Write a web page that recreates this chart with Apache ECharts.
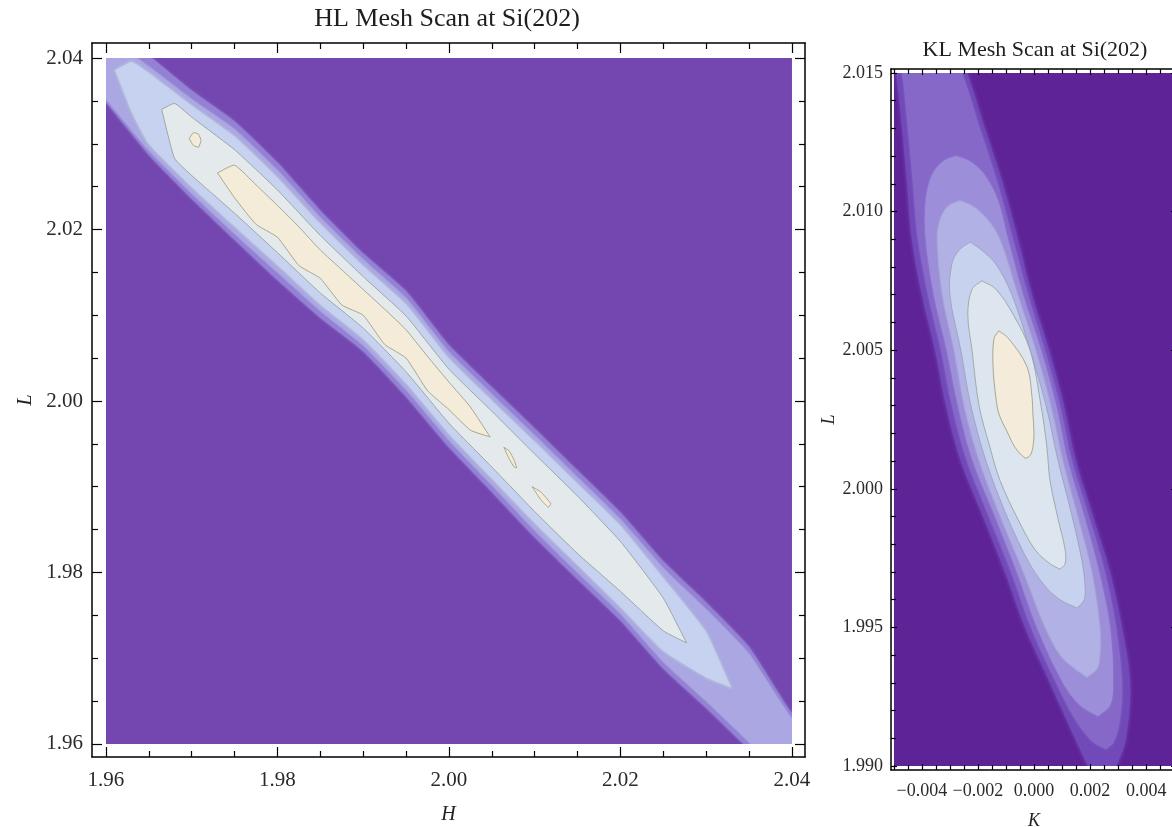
<!DOCTYPE html>
<html>
<head>
<meta charset="utf-8">
<script src="https://cdn.jsdelivr.net/npm/echarts@6/dist/echarts.min.js"></script>
<style>
  html, body { margin: 0; padding: 0; background: #ffffff; }
  #chart { width: 1172px; height: 827px; }
</style>
</head>
<body>
<div id="chart"></div>
<script>
// ---------------- data ----------------
const hlTitle = 'HL Mesh Scan at Si(202)';
const klTitle = 'KL Mesh Scan at Si(202)';

// tick values
const hlMajorTicks = [1.96, 1.98, 2.00, 2.02, 2.04];
const hlMinorTicks = [1.965, 1.97, 1.975, 1.985, 1.99, 1.995, 2.005, 2.01, 2.015, 2.025, 2.03, 2.035];
const klKMajorTicks = [-0.004, -0.002, 0.000, 0.002, 0.004];
const klKMinorTicks = [-0.005, -0.0045, -0.0035, -0.003, -0.0025, -0.0015, -0.001, -0.0005,
                       0.0005, 0.001, 0.0015, 0.0025, 0.003, 0.0035, 0.0045, 0.005];
const klLMajorTicks = [1.990, 1.995, 2.000, 2.005, 2.010, 2.015];
const klLMinorTicks = [1.991, 1.992, 1.993, 1.994, 1.996, 1.997, 1.998, 1.999, 2.001, 2.002,
                       2.003, 2.004, 2.006, 2.007, 2.008, 2.009, 2.011, 2.012, 2.013, 2.014];

// scanned domains
const hlDomainH = [1.96, 2.04];
const hlDomainL = [1.96, 2.04];
const klDomainK = [-0.005, 0.005];
const klDomainL = [1.990, 2.015];

// HL contour bands: rows [H, L upper edge, L lower edge], outermost first
const hlBand1 = [
  [1.9550, 2.0480, 2.0400], [1.9600, 2.0440, 2.0348], [1.9650, 2.0403, 2.0287],
  [1.9700, 2.0362, 2.0236], [1.9750, 2.0326, 2.0188], [1.9800, 2.0278, 2.0141],
  [1.9850, 2.0222, 2.0097], [1.9900, 2.0172, 2.0058], [1.9950, 2.0128, 2.0005],
  [2.0000, 2.0065, 1.9946], [2.0050, 2.0016, 1.9894], [2.0100, 1.9968, 1.9841],
  [2.0150, 1.9919, 1.9792], [2.0200, 1.9870, 1.9744], [2.0250, 1.9813, 1.9688],
  [2.0300, 1.9765, 1.9642], [2.0350, 1.9713, 1.9594], [2.0400, 1.9636, 1.9550],
  [2.0450, 1.9592, 1.9500]
];
const hlBand2 = [
  [1.9550, 2.0465, 2.0405], [1.9600, 2.0427, 2.0352], [1.9650, 2.0390, 2.0292],
  [1.9700, 2.0352, 2.0242], [1.9750, 2.0317, 2.0195], [1.9800, 2.0269, 2.0150],
  [1.9850, 2.0214, 2.0105], [1.9900, 2.0165, 2.0065], [1.9950, 2.0120, 2.0013],
  [2.0000, 2.0057, 1.9954], [2.0050, 2.0008, 1.9902], [2.0100, 1.9960, 1.9849],
  [2.0150, 1.9911, 1.9800], [2.0200, 1.9862, 1.9752], [2.0250, 1.9805, 1.9696],
  [2.0300, 1.9757, 1.9650], [2.0350, 1.9705, 1.9602], [2.0400, 1.9630, 1.9554],
  [2.0450, 1.9585, 1.9505]
];
const hlBand3 = [
  [1.9610, 2.0386, 2.0386], [1.9630, 2.0396, 2.0336], [1.9650, 2.0383, 2.0299],
  [1.9700, 2.0345, 2.0249], [1.9750, 2.0309, 2.0203], [1.9800, 2.0261, 2.0158],
  [1.9850, 2.0207, 2.0112], [1.9900, 2.0158, 2.0072], [1.9950, 2.0113, 2.0020],
  [2.0000, 2.0050, 1.9961], [2.0050, 2.0001, 1.9909], [2.0100, 1.9953, 1.9857],
  [2.0150, 1.9904, 1.9808], [2.0200, 1.9855, 1.9759], [2.0250, 1.9794, 1.9708],
  [2.0300, 1.9731, 1.9677], [2.0330, 1.9665, 1.9665]
];
const hlBand4 = [
  [1.9665, 2.0340, 2.0340], [1.9680, 2.0347, 2.0283], [1.9700, 2.0331, 2.0263],
  [1.9750, 2.0293, 2.0219], [1.9800, 2.0246, 2.0173], [1.9850, 2.0193, 2.0126],
  [1.9900, 2.0145, 2.0085], [1.9950, 2.0099, 2.0034], [2.0000, 2.0037, 1.9974],
  [2.0050, 1.9988, 1.9923], [2.0100, 1.9938, 1.9871], [2.0150, 1.9889, 1.9822],
  [2.0200, 1.9836, 1.9778], [2.0250, 1.9770, 1.9732], [2.0277, 1.9718, 1.9718]
];
const hlCore = [
  [1.9730, 2.0266, 2.0266], [1.9750, 2.0275, 2.0237], [1.9775, 2.0252, 2.0206],
  [1.9800, 2.0228, 2.0191], [1.9825, 2.0203, 2.0158], [1.9850, 2.0176, 2.0143],
  [1.9875, 2.0153, 2.0112], [1.9900, 2.0130, 2.0100], [1.9925, 2.0107, 2.0066],
  [1.9950, 2.0083, 2.0050], [1.9975, 2.0052, 2.0012], [2.0000, 2.0022, 1.9990],
  [2.0025, 1.9993, 1.9966], [2.0048, 1.9958, 1.9958]
];
const hlIsland0 = [[1.9697, 2.0306, 2.0306], [1.9702, 2.0313, 2.0298], [1.9708, 2.0311, 2.0296], [1.9711, 2.0304, 2.0304]];
const hlIsland1 = [[2.0064, 1.9946, 1.9946], [2.0070, 1.9942, 1.9933], [2.0076, 1.9931, 1.9923], [2.0079, 1.9922, 1.9922]];
const hlIsland2 = [[2.0097, 1.9900, 1.9900], [2.0107, 1.9894, 1.9885], [2.0116, 1.9884, 1.9876], [2.0119, 1.9880, 1.9880]];

// KL contour rings: rows [L, K left edge, K right edge], outermost first
const klRing1 = [
  [2.0158, -0.00514, -0.00282], [2.0150, -0.00493, -0.00239], [2.0130, -0.00471, -0.00175],
  [2.0110, -0.00453, -0.00111], [2.0090, -0.00436, -0.00057], [2.0070, -0.00400, -0.00007],
  [2.0050, -0.00353, 0.00054], [2.0030, -0.00314, 0.00107], [2.0010, -0.00261, 0.00150],
  [1.9990, -0.00182, 0.00211], [1.9970, -0.00104, 0.00271], [1.9950, -0.00032, 0.00314],
  [1.9930, 0.00057, 0.00343], [1.9910, 0.00146, 0.00328], [1.9900, 0.00193, 0.00293],
  [1.9891, 0.00243, 0.00243]
];
const klRing2 = [
  [2.0158, -0.00489, -0.00300], [2.0150, -0.00471, -0.00257], [2.0130, -0.00450, -0.00193],
  [2.0110, -0.00432, -0.00129], [2.0090, -0.00414, -0.00075], [2.0070, -0.00378, -0.00021],
  [2.0050, -0.00332, 0.00039], [2.0030, -0.00293, 0.00093], [2.0010, -0.00239, 0.00136],
  [1.9990, -0.00161, 0.00196], [1.9970, -0.00082, 0.00253], [1.9950, -0.00011, 0.00293],
  [1.9930, 0.00079, 0.00314], [1.9917, 0.00146, 0.00307], [1.9909, 0.00207, 0.00286],
  [1.9906, 0.00257, 0.00257]
];
const klRing3 = [
  [2.0120, -0.00278, -0.00278], [2.0118, -0.00325, -0.00228], [2.0113, -0.00364, -0.00175],
  [2.0104, -0.00386, -0.00129], [2.0090, -0.00386, -0.00093], [2.0070, -0.00357, -0.00039],
  [2.0050, -0.00311, 0.00025], [2.0030, -0.00271, 0.00079], [2.0010, -0.00218, 0.00121],
  [1.9990, -0.00139, 0.00179], [1.9970, -0.00061, 0.00232], [1.9950, 0.00011, 0.00271],
  [1.9930, 0.00104, 0.00282], [1.9922, 0.00164, 0.00271], [1.9918, 0.00228, 0.00228]
];
const klRing4 = [
  [2.0104, -0.00264, -0.00264], [2.0102, -0.00307, -0.00218], [2.0097, -0.00336, -0.00164],
  [2.0090, -0.00346, -0.00121], [2.0070, -0.00328, -0.00057], [2.0050, -0.00286, 0.00007],
  [2.0030, -0.00250, 0.00061], [2.0010, -0.00196, 0.00104], [1.9990, -0.00121, 0.00157],
  [1.9970, -0.00039, 0.00207], [1.9950, 0.00039, 0.00236], [1.9940, 0.00093, 0.00236],
  [1.9935, 0.00146, 0.00225], [1.9932, 0.00189, 0.00189]
];
const klRing5 = [
  [2.0089, -0.00228, -0.00228], [2.0086, -0.00268, -0.00186], [2.0081, -0.00293, -0.00136],
  [2.0070, -0.00300, -0.00079], [2.0050, -0.00261, -0.00014], [2.0030, -0.00225, 0.00043],
  [2.0010, -0.00171, 0.00086], [1.9990, -0.00096, 0.00136], [1.9974, -0.00021, 0.00171],
  [1.9965, 0.00039, 0.00182], [1.9960, 0.00093, 0.00179], [1.9957, 0.00154, 0.00154]
];
const klRing6 = [
  [2.0075, -0.00186, -0.00186], [2.0072, -0.00221, -0.00136], [2.0063, -0.00236, -0.00075],
  [2.0050, -0.00221, -0.00014], [2.0030, -0.00196, 0.00025], [2.0015, -0.00157, 0.00046],
  [2.0003, -0.00121, 0.00057], [1.9989, -0.00057, 0.00086], [1.9978, 0.00004, 0.00111],
  [1.9973, 0.00057, 0.00111], [1.9971, 0.00093, 0.00093]
];
const klCore = [
  [2.0057, -0.00125, -0.00125], [2.0054, -0.00143, -0.00089], [2.0044, -0.00146, -0.00025],
  [2.0033, -0.00136, -0.00007], [2.0027, -0.00125, -0.00004], [2.0020, -0.00093, 0.00000],
  [2.0015, -0.00068, -0.00004], [2.0012, -0.00043, -0.00014], [2.0011, -0.00029, -0.00029]
];

// ---------------- styles ----------------
const serif = '"Liberation Serif", "DejaVu Serif", serif';
const hlFills = ['#7446B0', '#9382D3', '#ABA7E2', '#C6D2EF', '#E4EAEC', '#F5EBD9', '#F5EBD9', '#F5EBD9', '#F5EBD9'];
const hlStrokes = [null, null, null, 'rgba(160,170,190,0.5)', 'rgba(140,150,140,0.75)', 'rgba(150,150,130,0.8)',
                   'rgba(150,150,130,0.8)', 'rgba(150,150,130,0.8)', 'rgba(150,150,130,0.8)'];
const hlBlur = [0, 3, 2, 2, 0, 0, 0, 0, 0];
const klFills = ['#5E2396', '#7149B8', '#8668C9', '#9C8ED9', '#B2B1E6', '#C7D2EE', '#DDE6EE', '#F4EBDA'];
const klStrokes = [null, null, null, null, 'rgba(150,150,190,0.5)', 'rgba(140,150,160,0.6)', 'rgba(140,150,140,0.7)', 'rgba(150,150,130,0.8)'];
const klBlur = [0, 4, 3, 2, 1, 0, 0, 0];

// ---------------- helpers ----------------
function polyFromColumns(rows) {           // rows [x, yUpper, yLower]
  const up = rows.map(r => [r[0], r[1]]);
  const lo = rows.slice().reverse().map(r => [r[0], r[2]]);
  return up.concat(lo);
}
function polyFromRows(rows) {              // rows [y, xLeft, xRight]
  const right = rows.map(r => [r[2], r[0]]);
  const left = rows.slice().reverse().map(r => [r[1], r[0]]);
  return right.concat(left);
}
function rectPoly(xr, yr) {
  return [[xr[0], yr[0]], [xr[1], yr[0]], [xr[1], yr[1]], [xr[0], yr[1]]];
}

const hlPolys = [rectPoly(hlDomainH, hlDomainL)].concat(
  [hlBand1, hlBand2, hlBand3, hlBand4, hlCore, hlIsland0, hlIsland1, hlIsland2].map(polyFromColumns));
const klPolys = [rectPoly(klDomainK, klDomainL)].concat(
  [klRing1, klRing2, klRing3, klRing4, klRing5, klRing6, klCore].map(polyFromRows));

function contourSeries(xi, yi, xr, yr, polys, fills, strokes, blur, smooth) {
  return {
    type: 'custom',
    xAxisIndex: xi, yAxisIndex: yi,
    animation: false, silent: true, z: 2,
    data: polys.map((p, i) => [xr[0], yr[0], i]),
    encode: { x: 0, y: 1 },
    renderItem: function (params, api) {
      const i = api.value(2);
      const pts = polys[i].map(p => api.coord(p));
      const a = api.coord([xr[0], yr[1]]);
      const b = api.coord([xr[1], yr[0]]);
      return {
        type: 'group',
        clipPath: { type: 'rect', shape: { x: a[0], y: a[1], width: b[0] - a[0], height: b[1] - a[1] } },
        children: [{
          type: 'polygon',
          shape: { points: pts, smooth: i === 0 ? 0 : smooth },
          style: {
            fill: fills[i],
            stroke: strokes[i] || null,
            lineWidth: 1,
            shadowBlur: blur[i],
            shadowColor: blur[i] ? fills[i] : 'transparent'
          }
        }]
      };
    }
  };
}

function frameAxes(kind, gridIndex, min, max, major, minor, fmt, o) {
  const sides = kind === 'x' ? ['bottom', 'top'] : ['left', 'right'];
  const base = {
    gridIndex, type: 'value', min, max, z: 10, silent: true,
    splitLine: { show: false }, minorTick: { show: false }, axisPointer: { show: false }
  };
  const lineStyle = { color: '#000', width: 1.5 };
  const tickStyle = { color: '#000', width: 1.2 };
  const axes = [];
  sides.forEach((pos, si) => {
    const majorAxis = Object.assign({}, base, {
      position: pos,
      axisLine: { show: true, onZero: false, lineStyle },
      axisTick: { show: true, inside: true, length: o.majorLen, customValues: major, lineStyle: tickStyle },
      axisLabel: si === 0 ? {
        show: true, customValues: major, formatter: fmt, margin: o.labelMargin,
        fontFamily: serif, fontSize: o.labelSize, color: '#2a2a2a'
      } : { show: false }
    });
    if (si === 0) {
      majorAxis.name = o.name;
      majorAxis.nameLocation = 'middle';
      majorAxis.nameGap = o.nameGap;
      if (kind === 'y') majorAxis.nameRotate = 90;
      majorAxis.nameTextStyle = { fontFamily: serif, fontStyle: 'italic', fontSize: o.nameSize, color: '#222' };
    }
    axes.push(majorAxis);
    axes.push(Object.assign({}, base, {
      position: pos,
      axisLine: { show: false, onZero: false },
      axisTick: { show: true, inside: true, length: o.minorLen, customValues: minor, lineStyle: tickStyle },
      axisLabel: { show: false }
    }));
  });
  return axes;
}

const fmt2 = v => v.toFixed(2);
const fmt3 = v => v.toFixed(3);
const fmtK = v => (v < -1e-12 ? '\u2212' : '') + Math.abs(v).toFixed(3);

const xAxes = []
  .concat(frameAxes('x', 0, 1.95837, 2.04152, hlMajorTicks, hlMinorTicks, fmt2,
    { majorLen: 10, minorLen: 6, labelMargin: 13, labelSize: 21, name: 'H', nameGap: 48, nameSize: 20 }))
  .concat(frameAxes('x', 1, -0.0051, 0.0051, klKMajorTicks, klKMinorTicks, fmtK,
    { majorLen: 6, minorLen: 5, labelMargin: 12, labelSize: 18, name: 'K', nameGap: 42, nameSize: 18 }));
const yAxes = []
  .concat(frameAxes('y', 0, 1.95848, 2.04175, hlMajorTicks, hlMinorTicks, fmt2,
    { majorLen: 10, minorLen: 6, labelMargin: 9, labelSize: 21, name: 'L', nameGap: 50, nameSize: 20 }))
  .concat(frameAxes('y', 1, 1.98986, 2.01514, klLMajorTicks, klLMinorTicks, fmt3,
    { majorLen: 6, minorLen: 5, labelMargin: 8, labelSize: 18, name: 'L', nameGap: 44, nameSize: 18 }));

const chart = echarts.init(document.getElementById('chart'), null, { renderer: 'canvas' });
chart.setOption({
  backgroundColor: '#ffffff',
  animation: false,
  grid: [
    { left: 92, top: 43, width: 713, height: 714, outerBoundsMode: 'none', containLabel: false },
    { left: 891, top: 69, width: 286, height: 701, outerBoundsMode: 'none', containLabel: false }
  ],
  xAxis: xAxes,
  yAxis: yAxes,
  graphic: [
    { type: 'text', x: 447, y: 6, silent: true,
      style: { text: hlTitle, fontFamily: serif, fontSize: 26, fill: '#1e1e1e', textAlign: 'center', textVerticalAlign: 'top' } },
    { type: 'text', x: 1035, y: 39, silent: true,
      style: { text: klTitle, fontFamily: serif, fontSize: 22, fill: '#1e1e1e', textAlign: 'center', textVerticalAlign: 'top' } }
  ],
  series: [
    contourSeries(0, 0, hlDomainH, hlDomainL, hlPolys, hlFills, hlStrokes, hlBlur, 0.15),
    contourSeries(4, 4, klDomainK, klDomainL, klPolys, klFills, klStrokes, klBlur, 0.35)
  ]
});
</script>
</body>
</html>
